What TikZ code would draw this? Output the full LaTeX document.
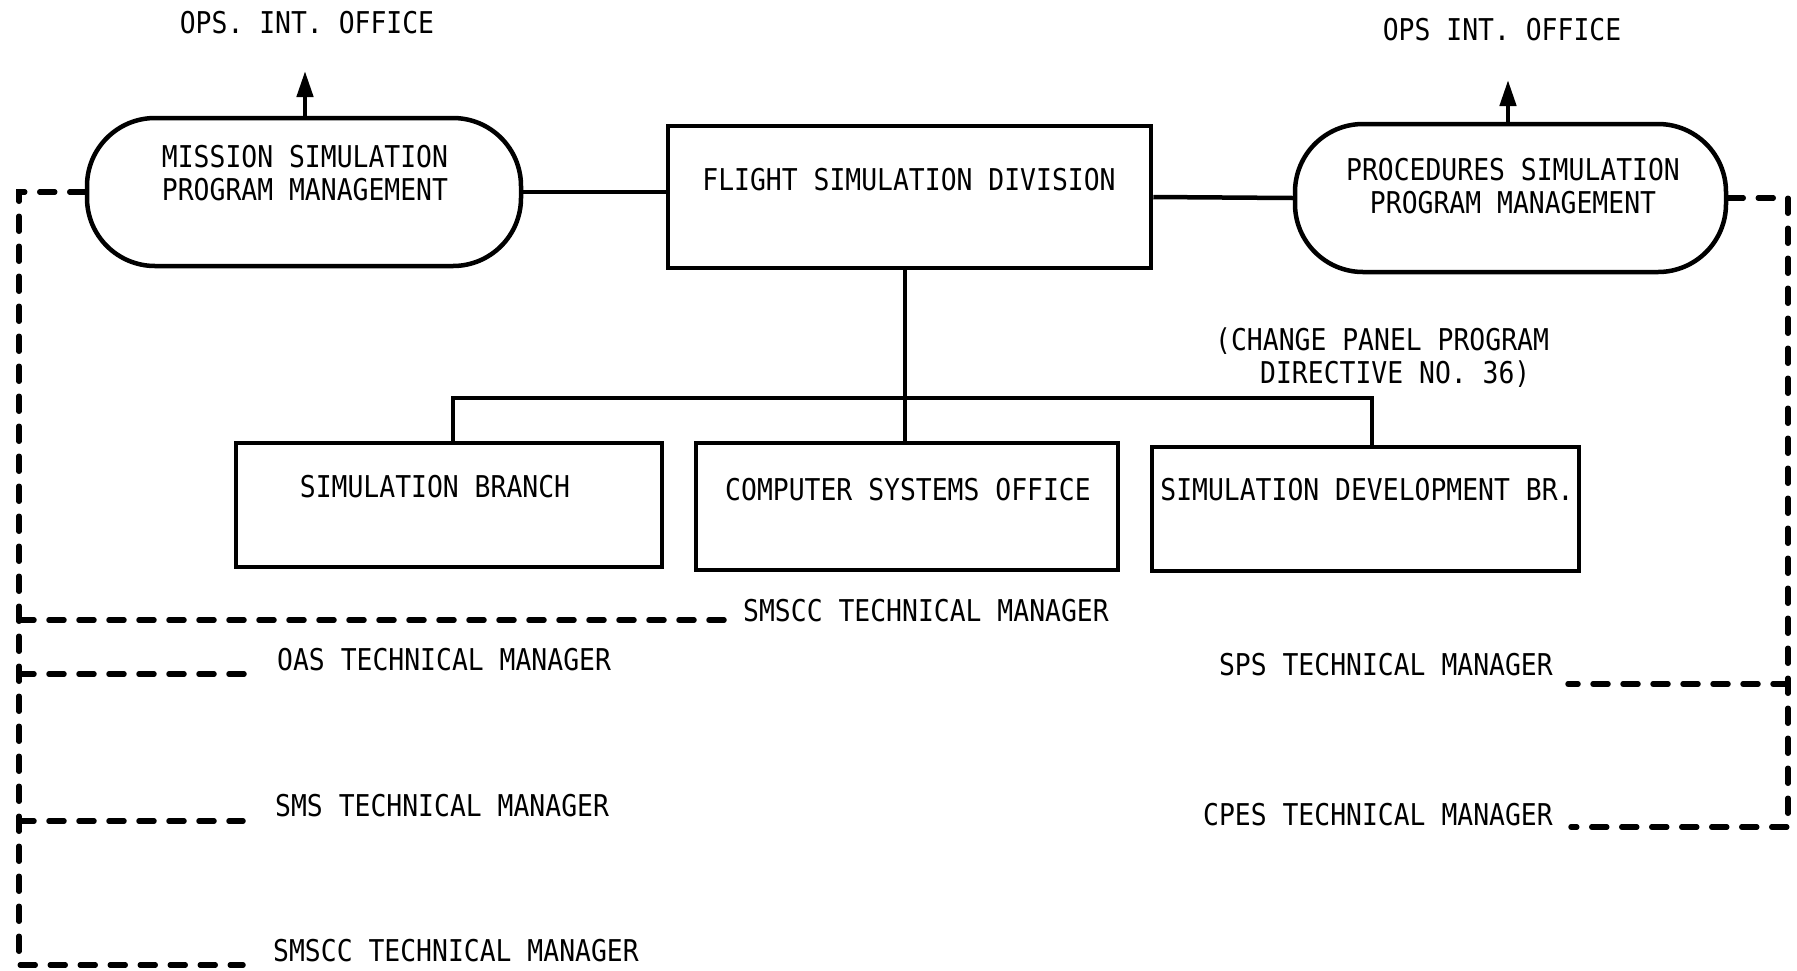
\documentclass[tikz,border=0pt]{standalone}
\usepackage{fontspec}
\setmainfont{DejaVu Sans Mono}[FakeStretch=0.88]
\usetikzlibrary{arrows.meta}
\begin{document}
\begin{tikzpicture}[x=1pt,y=-1pt,
  solid line/.style={line width=4.5pt},
  dline/.style={line width=5.5pt, line cap=round, dash pattern=on 15pt off 15pt},
  boxnode/.style={draw, line width=4.5pt, inner sep=0pt},
  stadium/.style={draw, line width=4.5pt, inner sep=0pt, rounded corners=68pt},
  lbl/.style={inner sep=0pt, font=\fontsize{30}{33}\selectfont, align=center},
  uparrow/.style={line width=4.5pt, -{Triangle[length=26pt,width=16pt]}}
]
\useasboundingbox (0,0) rectangle (1797,970);

% shapes
\node[stadium, minimum width=434pt, minimum height=148pt] (mspm) at (304,192) {};
\node[boxnode, minimum width=483pt, minimum height=142pt] (fsd) at (909.5,197) {};
\node[stadium, minimum width=431pt, minimum height=148pt] (pspm) at (1510.5,198) {};
\node[boxnode, minimum width=426pt, minimum height=124pt] (sb) at (449,505) {};
\node[boxnode, minimum width=422pt, minimum height=127pt] (cso) at (907,506.5) {};
\node[boxnode, minimum width=427pt, minimum height=124pt] (sdb) at (1365.5,509) {};

% texts
\node[lbl] (opsL) at (307,23) {OPS. INT. OFFICE};
\node[lbl] (opsR) at (1502,30) {OPS INT. OFFICE};
\node[lbl] (mspmT) at (305,173) {MISSION SIMULATION\\PROGRAM MANAGEMENT};
\node[lbl] (fsdT) at (909,180) {FLIGHT SIMULATION DIVISION};
\node[lbl] (pspmT) at (1513,186) {PROCEDURES SIMULATION\\PROGRAM MANAGEMENT};
\node[lbl] (sbT) at (435,487) {SIMULATION BRANCH};
\node[lbl] (csoT) at (908,490) {COMPUTER SYSTEMS OFFICE};
\node[lbl] (sdbT) at (1367,490) {SIMULATION DEVELOPMENT BR.};
\node[lbl, align=left, anchor=west] (cpd) at (1215,358) {(CHANGE PANEL PROGRAM\\\hspace*{45pt}DIRECTIVE NO. 36)};

\node[lbl, anchor=west] (tm1) at (743,611) {SMSCC TECHNICAL MANAGER};
\node[lbl, anchor=west] (tm2) at (277,660) {OAS TECHNICAL MANAGER};
\node[lbl, anchor=west] (tm3) at (275,806) {SMS TECHNICAL MANAGER};
\node[lbl, anchor=west] (tm4) at (273,951) {SMSCC TECHNICAL MANAGER};
\node[lbl, anchor=east] (tm5) at (1553,665) {SPS TECHNICAL MANAGER};
\node[lbl, anchor=east] (tm6) at (1553,815) {CPES TECHNICAL MANAGER};

% coordinates
\coordinate (aL) at (305,71);
\coordinate (aR) at (1508,80);
\coordinate (barL) at (453,398);
\coordinate (barC) at (905,398);
\coordinate (barR) at (1372,398);
\coordinate (LX) at (19,0);
\coordinate (RX) at (1788,0);
\coordinate (e1) at (730,620);
\coordinate (e2) at (249,674);
\coordinate (e3) at (243,821);
\coordinate (e4) at (243,965);
\coordinate (e5) at (1568,684);
\coordinate (e6) at (1571,827);

% solid connectors
\draw[uparrow] (mspm.north -| aL) -- (aL);
\draw[uparrow] (pspm.north -| aR) -- (aR);
\draw[solid line] (mspm.east) -- (mspm.east -| fsd.west);
\draw[solid line] (fsd.east) -- (pspm.west);
\draw[solid line] (fsd.south -| barC) -- (barC |- cso.north);
\draw[solid line] (sb.north -| barL) -- (barL) -- (barR) -- (sdb.north -| barR);

% dashed connectors left
\draw[dline] (mspm.west) -- (mspm.west -| LX) -- (e4 -| LX) -- (e4);
\draw[dline] (e1 -| LX) -- (e1);
\draw[dline] (e2 -| LX) -- (e2);
\draw[dline] (e3 -| LX) -- (e3);

% dashed connectors right
\draw[dline] (pspm.east) -- (pspm.east -| RX) -- (e6 -| RX) -- (e6);
\draw[dline] (e5 -| RX) -- (e5);
\end{tikzpicture}
\end{document}
